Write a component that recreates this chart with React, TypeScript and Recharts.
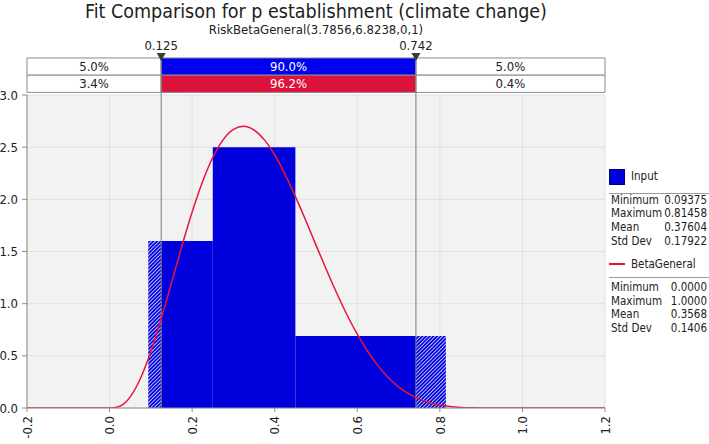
import React from "react";
import {
  ComposedChart,
  Line,
  XAxis,
  YAxis,
  CartesianGrid,
  ReferenceArea,
  ReferenceLine,
  ReferenceDot,
} from "recharts";

const FONT = "'DejaVu Sans Condensed', 'DejaVu Sans', sans-serif";

// histogram of the input samples
const binEdges = [0.09375, 0.25, 0.45, 0.81458];
const binDensity = [1.6, 2.5, 0.69];

// delimiters and probabilities shown above the plot
const cutoffs = [0.125, 0.742];
const bandEdges = [-0.2, 0.125, 0.742, 1.2];
const inputPct = ["5.0%", "90.0%", "5.0%"];
const fitPct = ["3.4%", "96.2%", "0.4%"];

// fitted BetaGeneral density
const curveX = [
  -0.2, 0, 0.025, 0.05, 0.075, 0.1, 0.125, 0.15, 0.175, 0.2, 0.225, 0.25,
  0.275, 0.3, 0.325, 0.35, 0.375, 0.4, 0.425, 0.45, 0.475, 0.5, 0.525, 0.55,
  0.575, 0.6, 0.625, 0.65, 0.675, 0.7, 0.725, 0.75, 0.775, 0.8, 0.825, 0.85,
  0.875, 0.9, 0.95, 1.0, 1.2,
];
const curveY = [
  0, 0, 0.018, 0.107, 0.285, 0.541, 0.855, 1.2, 1.549, 1.878, 2.167, 2.401,
  2.57, 2.67, 2.7, 2.664, 2.57, 2.425, 2.24, 2.028, 1.799, 1.561, 1.327, 1.102,
  0.894, 0.707, 0.544, 0.406, 0.293, 0.203, 0.135, 0.085, 0.051, 0.028, 0.014,
  0.006, 0.002, 0.001, 0, 0, 0,
];

const xTicks = [-0.2, 0, 0.2, 0.4, 0.6, 0.8, 1.0, 1.2];
const yTicks = [0, 0.5, 1.0, 1.5, 2.0, 2.5, 3.0];

const inputStats = [
  ["Minimum", "0.09375"],
  ["Maximum", "0.81458"],
  ["Mean", "0.37604"],
  ["Std Dev", "0.17922"],
];
const betaStats = [
  ["Minimum", "0.0000"],
  ["Maximum", "1.0000"],
  ["Mean", "0.3568"],
  ["Std Dev", "0.1406"],
];

const BLUE = "#0000dc";
const RED = "#e8143c";

const curveData = curveX.map((x, i) => ({ x, y: curveY[i] }));

// split histogram bins at the delimiters, outer parts are hatched
const segments: { x1: number; x2: number; h: number; hatch: boolean }[] = [];
binDensity.forEach((h, i) => {
  const pts = [binEdges[i], ...cutoffs.filter((c) => c > binEdges[i] && c < binEdges[i + 1]), binEdges[i + 1]];
  for (let k = 0; k < pts.length - 1; k++) {
    const mid = (pts[k] + pts[k + 1]) / 2;
    segments.push({ x1: pts[k], x2: pts[k + 1], h, hatch: mid < cutoffs[0] || mid > cutoffs[1] });
  }
});

const XTick = (props: any) => {
  const { x, y, payload } = props;
  const ty = y + 4;
  return (
    <text
      x={x}
      y={ty}
      transform={`rotate(-90 ${x} ${ty})`}
      textAnchor="end"
      dy="0.36em"
      fontSize={13}
      fontFamily={FONT}
      fill="#222"
    >
      {payload.value.toFixed(1)}
    </text>
  );
};

const Marker = (label: string) => (props: any) => {
  const { cx, cy } = props;
  return (
    <g>
      <polygon points={`${cx - 4.5},${cy - 5} ${cx + 4.5},${cy - 5} ${cx},${cy + 3}`} fill="#3a3a3a" />
      <text x={cx} y={cy - 8} textAnchor="middle" fontSize={13} fontFamily={FONT} fill="#222">
        {label}
      </text>
    </g>
  );
};

const ROW = 13.8;

const StatRows = ({ rows, top }: { rows: string[][]; top: number }) => (
  <>
    {rows.map(([k, v], i) => (
      <div
        key={k}
        style={{
          position: "absolute",
          left: 611,
          width: 96,
          top: top + i * ROW,
          height: 14,
          lineHeight: "14px",
          display: "flex",
          justifyContent: "space-between",
        }}
      >
        <span>{k}</span>
        <span>{v}</span>
      </div>
    ))}
  </>
);

export default function App() {
  return (
    <div
      style={{
        position: "absolute",
        left: 0,
        top: 0,
        width: 709,
        height: 444,
        background: "#fff",
        fontFamily: FONT,
        color: "#222",
        overflow: "hidden",
      }}
    >
      <svg width={0} height={0} style={{ position: "absolute" }}>
        <defs>
          <pattern id="hatch" patternUnits="userSpaceOnUse" width={2.6} height={2.6} patternTransform="rotate(45)">
            <rect width={2.6} height={2.6} fill="#c8c8ff" />
            <rect width={1.7} height={2.6} fill={BLUE} />
          </pattern>
        </defs>
      </svg>

      <div style={{ position: "absolute", left: 0, width: 632, top: 1, height: 21, textAlign: "center", fontSize: 19.5, lineHeight: "21px" }}>
        Fit Comparison for p establishment (climate change)
      </div>
      <div style={{ position: "absolute", left: 0, width: 632, top: 22, height: 15, textAlign: "center", fontSize: 13, lineHeight: "15px" }}>
        RiskBetaGeneral(3.7856,6.8238,0,1)
      </div>

      <ComposedChart width={709} height={444} margin={{ top: 95, right: 104, bottom: 0, left: 0 }}>
        <CartesianGrid fill="#f2f2f2" stroke="#e0e0e0" vertical horizontal />
        <XAxis
          type="number"
          dataKey="x"
          domain={[-0.2, 1.2]}
          ticks={xTicks}
          allowDataOverflow
          height={36}
          tickSize={4}
          tickMargin={0}
          stroke="#8c8c8c"
          tick={<XTick />}
        />
        <YAxis
          type="number"
          domain={[0, 3]}
          ticks={yTicks}
          allowDataOverflow
          width={27}
          tickSize={5}
          tickMargin={4}
          stroke="#8c8c8c"
          tickFormatter={(v: number) => v.toFixed(1)}
          tick={{ fontSize: 13, fontFamily: FONT, fill: "#222" }}
        />

        {segments.map((s, i) => (
          <ReferenceArea
            key={`bin${i}`}
            x1={s.x1}
            x2={s.x2}
            y1={0}
            y2={s.h}
            fill={s.hatch ? "url(#hatch)" : BLUE}
            fillOpacity={1}
            stroke="none"
          />
        ))}

        {inputPct.map((p, i) => (
          <ReferenceArea
            key={`in${i}`}
            x1={bandEdges[i]}
            x2={bandEdges[i + 1]}
            y1={3.19}
            y2={3.355}
            ifOverflow="visible"
            fill={i === 1 ? "#0000f0" : "#ffffff"}
            fillOpacity={1}
            stroke="#8a8a8a"
            label={{ value: p, position: "center", fill: i === 1 ? "#fff" : "#222", fontSize: 13, fontFamily: FONT }}
          />
        ))}
        {fitPct.map((p, i) => (
          <ReferenceArea
            key={`fit${i}`}
            x1={bandEdges[i]}
            x2={bandEdges[i + 1]}
            y1={3.025}
            y2={3.19}
            ifOverflow="visible"
            fill={i === 1 ? "#dc143c" : "#ffffff"}
            fillOpacity={1}
            stroke="#8a8a8a"
            label={{ value: p, position: "center", fill: i === 1 ? "#fff" : "#222", fontSize: 13, fontFamily: FONT }}
          />
        ))}

        {cutoffs.map((c) => (
          <ReferenceLine
            key={`cut${c}`}
            segment={[
              { x: c, y: 0 },
              { x: c, y: 3.355 },
            ]}
            ifOverflow="visible"
            stroke="#7a7a7a"
            strokeWidth={1}
          />
        ))}
        {cutoffs.map((c) => (
          <ReferenceDot key={`mk${c}`} x={c} y={3.355} ifOverflow="visible" shape={Marker(c.toFixed(3))} />
        ))}

        <Line
          data={curveData}
          dataKey="y"
          type="monotone"
          stroke={RED}
          strokeWidth={1.5}
          dot={false}
          isAnimationActive={false}
        />
      </ComposedChart>

      {/* legend */}
      <div style={{ position: "absolute", left: 0, top: 0, width: 709, height: 444, fontSize: 11.5, pointerEvents: "none" }}>
        <div style={{ position: "absolute", left: 609, top: 168.5, width: 16, height: 16, background: BLUE, border: "1px solid #00007a", boxSizing: "border-box" }} />
        <div style={{ position: "absolute", left: 631, top: 169, lineHeight: "14px" }}>Input</div>
        <div style={{ position: "absolute", left: 609, top: 193, width: 100, borderTop: "1px solid #9a9a9a" }} />
        <StatRows rows={inputStats} top={192.5} />
        <div style={{ position: "absolute", left: 609, top: 262.5, width: 16, height: 2, background: RED }} />
        <div style={{ position: "absolute", left: 631, top: 256.5, lineHeight: "14px" }}>BetaGeneral</div>
        <div style={{ position: "absolute", left: 609, top: 276.5, width: 100, borderTop: "1px solid #9a9a9a" }} />
        <StatRows rows={betaStats} top={279.7} />
      </div>
    </div>
  );
}
